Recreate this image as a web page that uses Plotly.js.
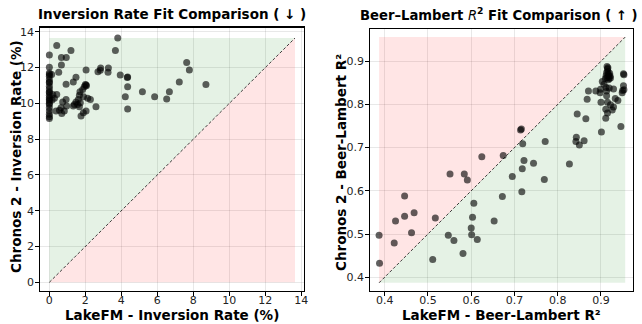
<!DOCTYPE html>
<html><head><meta charset="utf-8">
<script src="https://cdn.plot.ly/plotly-3.0.1.min.js"></script>
<style>html,body{margin:0;padding:0;background:#fff}</style>
</head><body><div id="chart" style="width:642px;height:324px"></div>
<script>
// Left panel: inversion rate (%)
const invLakeFM = [0.41,0,3.8,3.67,1.2,0.67,0.94,0.67,0,0.52,
  0,0,0,0,0,0,0,0,0,0,0,0,0,0,0,0,0,0,0,0,0,
  0.13,2.04,1.48,1.33,0.93,2.7,2.85,2.83,3.28,3.26,3.94,4.35,4.33,4.35,4.22,4.35,5.17,5.85,6.52,6.67,7.22,7.63,7.78,8.7,
  2.04,2.0,2.06,1.94,1.85,1.7,1.67,1.9,2.13,2.28,1.61,1.48,1.39,1.33,1.57,1.67,1.72,0.93,0.96,0.74,0.41,0.19,0.15,0.28,0.37,0.65,0.69,0.83,0.56,2.59,2.04,1.89,1.76];
const invChronos = [13.24,12.7,13.65,12.96,12.96,12.57,12.57,12.15,12.02,11.74,
  11.70,11.61,11.52,11.33,11.2,11.15,10.96,10.8,10.65,10.6,10.45,10.31,10.22,10.13,10.0,9.94,9.76,9.57,9.39,9.25,9.15,
  11.61,11.87,11.46,11.2,11.07,11.76,11.98,11.85,11.98,11.74,11.59,11.48,11.45,10.93,10.37,9.69,10.65,10.37,10.24,10.65,11.2,12.28,11.87,11.06,
  11.02,11.05,10.98,10.93,10.78,10.65,10.46,10.37,10.28,10.22,10.22,10.07,9.94,9.85,9.94,9.81,10.04,10.22,9.85,10.07,10.5,10.5,10.19,10.28,9.57,9.76,9.43,9.57,9.61,9.81,9.57,9.48,9.3];
const invLimits = [0, 13.65];

// Right panel: Beer-Lambert R^2
const r2LakeFM = [0.388,0.387,0.422,0.425,0.446,0.446,0.462,0.468,0.511,0.517,0.547,0.551,0.56,0.581,0.584,0.591,0.6,0.601,0.603,0.606,0.614,0.6245,0.653,0.672,0.674,0.695,0.714,0.716,0.717,0.718,0.719,0.722,0.744,0.769,0.771,0.827,0.843,0.842,0.85,0.861,0.845,0.865,0.868,0.871,0.888,0.899,0.9,0.901,0.898,0.903,0.907,0.912,0.913,0.911,0.911,0.913,0.915,0.919,0.915,0.922,0.926,0.929,0.929,0.933,0.939,0.946,0.949,0.952,0.953,0.952,0.953,0.95,
  0.914,0.915,0.916,0.917,0.918,0.919,0.917,0.914,0.912,0.92,0.921,0.913,0.916,0.91,0.922];
const r2Chronos = [0.432,0.497,0.479,0.530,0.541,0.588,0.503,0.549,0.441,0.537,0.497,0.639,0.485,0.455,0.639,0.625,0.514,0.498,0.539,0.571,0.487,0.679,0.530,0.587,0.682,0.633,0.741,0.743,0.598,0.651,0.709,0.670,0.664,0.626,0.714,0.662,0.724,0.714,0.706,0.716,0.778,0.767,0.812,0.831,0.831,0.835,0.805,0.736,0.827,0.853,0.847,0.839,0.831,0.768,0.789,0.82,0.78,0.838,0.805,0.799,0.787,0.836,0.794,0.814,0.809,0.749,0.827,0.871,0.869,0.843,0.834,0.832,
  0.888,0.882,0.876,0.87,0.865,0.86,0.857,0.862,0.867,0.872,0.866,0.874,0.885,0.86,0.861];
const r2Limits = [0.387, 0.956];

const GREEN = 'rgba(0,128,0,0.1)', RED = 'rgba(255,0,0,0.1)';
function tri(lim, upper, fill, xa, ya){
  const a = lim[0], b = lim[1];
  const xs = upper ? [a, a, b, a] : [a, b, b, a];
  const ys = upper ? [a, b, b, a] : [a, a, b, a];
  return {x: xs, y: ys, type:'scatter', mode:'lines', fill:'toself', fillcolor: fill,
          line:{width:0}, hoverinfo:'skip', showlegend:false, xaxis:xa, yaxis:ya};
}
function diag(lim, xa, ya){
  return {x: lim, y: lim, type:'scatter', mode:'lines', line:{color:'rgba(0,0,0,0.75)', width:1, dash:'3px,2px'},
          showlegend:false, xaxis:xa, yaxis:ya};
}
function pts(x, y, xa, ya){
  return {x, y, type:'scatter', mode:'markers', marker:{size:7, color:'rgba(0,0,0,0.62)', line:{width:0}},
          showlegend:false, xaxis:xa, yaxis:ya};
}
const traces = [
  tri(invLimits, true, GREEN, 'x', 'y'), tri(invLimits, false, RED, 'x', 'y'), diag(invLimits, 'x', 'y'),
  pts(invLakeFM, invChronos, 'x', 'y'),
  tri(r2Limits, true, RED, 'x2', 'y2'), tri(r2Limits, false, GREEN, 'x2', 'y2'), diag(r2Limits, 'x2', 'y2'),
  pts(r2LakeFM, r2Chronos, 'x2', 'y2')
];
const W = 642, H = 324;
const F = 'DejaVu Sans, sans-serif';
function ax(extra){
  return Object.assign({showline:true, mirror:true, linecolor:'#000', linewidth:1.3, ticks:'outside', ticklen:3.5,
    tickcolor:'#000', tickwidth:1, showgrid:true, gridcolor:'rgba(0,0,0,0.09)', gridwidth:1, zeroline:false,
    tickfont:{family:F, size:11, color:'#222'}}, extra);
}
const tf = {family:F, size:13.5, color:'#000', weight:'bold'};
function lab(text, px, py, rot){
  return {text, xref:'paper', yref:'paper', x:px/W, y:(H-py)/H, xanchor:'center', yanchor:'middle',
          showarrow:false, textangle:rot||0, font:tf, borderpad:0};
}
const layout = {
  width: W, height: H, margin:{l:0,r:0,t:0,b:0}, paper_bgcolor:'#fff', plot_bgcolor:'#fff', showlegend:false,
  xaxis: ax({domain:[40/W, 304/W], range:[-0.52, 14.15], dtick:2, anchor:'y', ticklabelstandoff:-5}),
  yaxis: ax({domain:[(H-290.7)/H, (H-27.5)/H], range:[-0.47, 14.24], dtick:2, anchor:'x', ticklabelstandoff:-1}),
  xaxis2: ax({domain:[370/W, 633/W], range:[0.366, 0.974], dtick:0.1, tick0:0.4, anchor:'y2', ticklabelstandoff:-5}),
  yaxis2: ax({domain:[(H-291)/H, (H-29.3)/H], range:[0.368, 0.974], dtick:0.1, tick0:0.4, anchor:'x2', ticklabelstandoff:-1}),
  annotations:[
    {text:'Inversion Rate Fit Comparison ( ↓ )', xref:'paper', yref:'paper', x:172/W, y:(H-14)/H,
     xanchor:'center', yanchor:'middle', showarrow:false, font:{family:F, size:13.5, color:'#000', weight:'bold'}},
    {text:'Beer–Lambert <span style="font-weight:normal"><i>R</i></span><sup>2</sup> Fit Comparison ( ↑ )', xref:'paper', yref:'paper', x:499/W, y:(H-14)/H,
     xanchor:'center', yanchor:'middle', showarrow:false, font:{family:F, size:13.2, color:'#000', weight:'bold'}},
    lab('LakeFM - Inversion Rate (%)', 172, 314.5),
    lab('Chronos 2 - Inversion Rate (%)', 16, 157, -90),
    lab('LakeFM - Beer-Lambert R²', 501, 314.5),
    lab('Chronos 2 - Beer-Lambert R²', 341, 163, -90)
  ]
};
Plotly.newPlot('chart', traces, layout, {staticPlot:true, displayModeBar:false});
</script></body></html>
